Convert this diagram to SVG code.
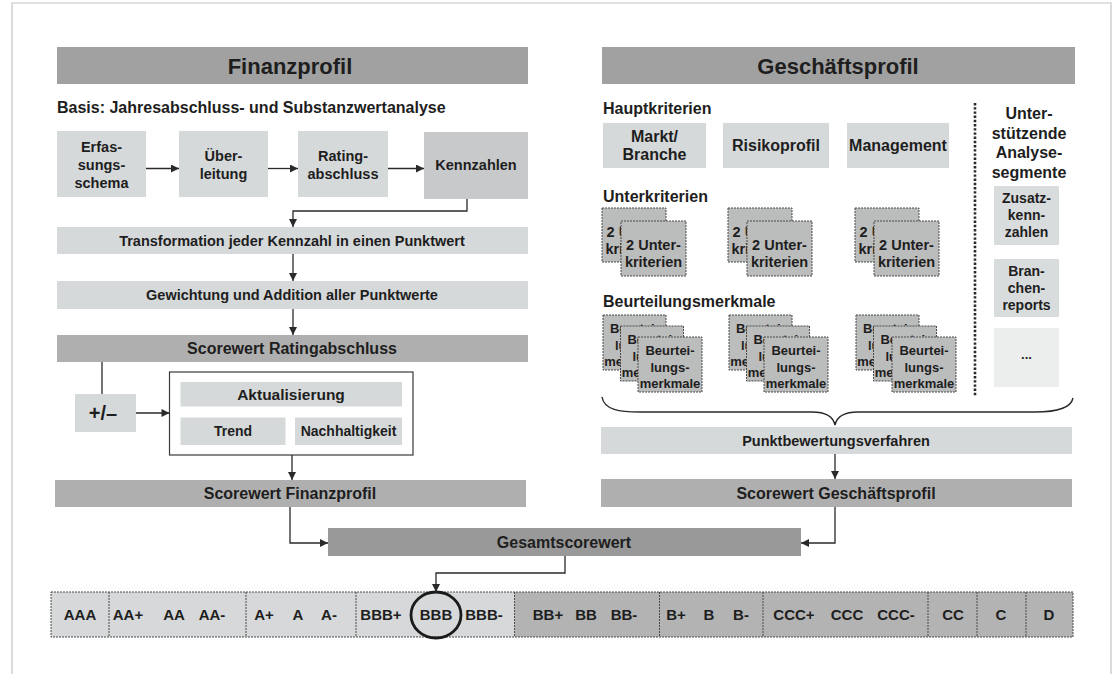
<svg xmlns="http://www.w3.org/2000/svg" width="1113" height="674" viewBox="0 0 1113 674">
<defs>
<marker id="ah" viewBox="0 0 10 10" refX="10" refY="5" markerWidth="9" markerHeight="8" markerUnits="userSpaceOnUse" orient="auto"><path d="M0,0 L10,5 L0,10 z" fill="#2a2a2a"/></marker>
<style>
text{font-family:"Liberation Sans",Arial,sans-serif;font-weight:bold;fill:#1e1e1e;text-anchor:middle}
.hd{fill:#a1a1a1}
.lt{fill:#d6d9da}
.sc{fill:#afafaf}
.gs{fill:#999999}
.st{fill:#bbbcbc;stroke:#4a4a4a;stroke-width:1;stroke-dasharray:2 1}
.rl{fill:#d6d8d9}
.rd{fill:#b3b3b3}
.dv{stroke:#4a4a4a;stroke-width:1;stroke-dasharray:2 1;fill:none}
.cn{fill:none;stroke:#2a2a2a;stroke-width:1.3}
.t22{font-size:22px}
.t16{font-size:16px}
.t145{font-size:14.5px}
.t14{font-size:14px}
.t13{font-size:13px}
.t15{font-size:15px}
.l{text-anchor:start}
</style>
</defs>
<rect x="0" y="0" width="1113" height="674" fill="#ffffff"/>
<path d="M12,674 V3 H1111 V674" fill="none" stroke="#c4c4c4" stroke-width="1.2"/>

<!-- Finanzprofil -->
<g id="finanzprofil-header"><rect class="hd" x="57" y="47" width="471" height="37"/><text class="t22" x="290" y="74">Finanzprofil</text></g>
<g id="basis-label"><text class="t16 l" x="57" y="113">Basis: Jahresabschluss- und Substanzwertanalyse</text></g>
<g id="erfassungsschema"><rect class="lt" x="57" y="131" width="89" height="66"/><text class="t145" x="101.5" y="152">Erfas-</text><text class="t145" x="101.5" y="170">sungs-</text><text class="t145" x="101.5" y="188">schema</text></g>
<g id="ueberleitung"><rect class="lt" x="179" y="131" width="89" height="66"/><text class="t145" x="223.5" y="161">Über-</text><text class="t145" x="223.5" y="179">leitung</text></g>
<g id="ratingabschluss"><rect class="lt" x="298" y="131" width="90" height="66"/><text class="t145" x="343" y="161">Rating-</text><text class="t145" x="343" y="179">abschluss</text></g>
<g id="kennzahlen"><rect fill="#c7c9ca" x="424" y="132" width="104" height="67"/><text class="t145" x="476" y="170">Kennzahlen</text></g>
<g id="transformation"><rect class="lt" x="57" y="227" width="471" height="27"/><text class="t145" x="292" y="246">Transformation jeder Kennzahl in einen Punktwert</text></g>
<g id="gewichtung"><rect class="lt" x="57" y="281" width="471" height="28"/><text class="t145" x="292" y="300">Gewichtung und Addition aller Punktwerte</text></g>
<g id="scorewert-rating"><rect class="sc" x="57" y="335" width="471" height="27"/><text class="t16" x="292" y="354">Scorewert Ratingabschluss</text></g>
<g id="plusminus"><rect class="lt" x="75" y="394" width="61" height="38"/><text x="103" y="420" style="font-size:20px">+/–</text></g>
<g id="aktualisierung-box"><rect x="169.5" y="372" width="243.5" height="83" fill="#ffffff" stroke="#3a3a3a" stroke-width="1.2"/>
<rect class="lt" x="180.5" y="382" width="221.5" height="24.5"/><text x="291" y="400" style="font-size:15.5px">Aktualisierung</text>
<rect class="lt" x="180.5" y="417.5" width="105" height="27.5"/><text class="t14" x="233" y="436">Trend</text>
<rect class="lt" x="295" y="417.5" width="107" height="27.5"/><text class="t14" x="348.5" y="436">Nachhaltigkeit</text></g>
<g id="scorewert-finanz"><rect class="sc" x="55" y="480" width="471" height="27"/><text class="t16" x="290" y="499">Scorewert Finanzprofil</text></g>

<!-- Geschäftsprofil -->
<g id="geschaeftsprofil-header"><rect class="hd" x="602" y="47" width="473" height="37"/><text class="t22" x="838" y="74">Geschäftsprofil</text></g>
<g id="hauptkriterien-label"><text class="t16 l" x="603" y="114">Hauptkriterien</text></g>
<g id="markt"><rect class="lt" x="603" y="123" width="103" height="45"/><text class="t16" x="654.5" y="142">Markt/</text><text class="t16" x="654.5" y="160">Branche</text></g>
<g id="risikoprofil"><rect class="lt" x="723" y="123" width="106" height="45"/><text class="t16" x="776" y="151">Risikoprofil</text></g>
<g id="management"><rect class="lt" x="847" y="123" width="102" height="45"/><text class="t16" x="898" y="151">Management</text></g>
<g id="unterkriterien-label"><text class="t16 l" x="603" y="202">Unterkriterien</text></g>

<g id="uk1"><rect class="st" x="602" y="208" width="64" height="54"/><text class="t145" x="634" y="237">2 Unter-</text><text class="t145" x="634" y="254">kriterien</text>
<rect class="st" x="621" y="221" width="65" height="55"/><text class="t145" x="653.5" y="250">2 Unter-</text><text class="t145" x="653.5" y="267">kriterien</text></g>
<g id="uk2"><rect class="st" x="728" y="208" width="64" height="54"/><text class="t145" x="760" y="237">2 Unter-</text><text class="t145" x="760" y="254">kriterien</text>
<rect class="st" x="747" y="221" width="65" height="55"/><text class="t145" x="779.5" y="250">2 Unter-</text><text class="t145" x="779.5" y="267">kriterien</text></g>
<g id="uk3"><rect class="st" x="855" y="208" width="64" height="54"/><text class="t145" x="887" y="237">2 Unter-</text><text class="t145" x="887" y="254">kriterien</text>
<rect class="st" x="874" y="221" width="65" height="55"/><text class="t145" x="906.5" y="250">2 Unter-</text><text class="t145" x="906.5" y="267">kriterien</text></g>

<g id="beurteilung-label"><text class="t16 l" x="603" y="307">Beurteilungsmerkmale</text></g>

<g id="bm1">
<rect class="st" x="603" y="315" width="63" height="55"/><text class="t13" x="634.5" y="333">Beurtei-</text><text class="t13" x="634.5" y="349.5">lungs-</text><text class="t13" x="634.5" y="366">merkmale</text>
<rect class="st" x="620.5" y="326" width="63" height="55"/><text class="t13" x="652" y="344">Beurtei-</text><text class="t13" x="652" y="360.5">lungs-</text><text class="t13" x="652" y="377">merkmale</text>
<rect class="st" x="638" y="337" width="64" height="55"/><text class="t13" x="670" y="355">Beurtei-</text><text class="t13" x="670" y="371.5">lungs-</text><text class="t13" x="670" y="388">merkmale</text></g>
<g id="bm2">
<rect class="st" x="729" y="315" width="63" height="55"/><text class="t13" x="760.5" y="333">Beurtei-</text><text class="t13" x="760.5" y="349.5">lungs-</text><text class="t13" x="760.5" y="366">merkmale</text>
<rect class="st" x="746.5" y="326" width="63" height="55"/><text class="t13" x="778" y="344">Beurtei-</text><text class="t13" x="778" y="360.5">lungs-</text><text class="t13" x="778" y="377">merkmale</text>
<rect class="st" x="764" y="337" width="64" height="55"/><text class="t13" x="796" y="355">Beurtei-</text><text class="t13" x="796" y="371.5">lungs-</text><text class="t13" x="796" y="388">merkmale</text></g>
<g id="bm3">
<rect class="st" x="856" y="315" width="63" height="55"/><text class="t13" x="887.5" y="333">Beurtei-</text><text class="t13" x="887.5" y="349.5">lungs-</text><text class="t13" x="887.5" y="366">merkmale</text>
<rect class="st" x="873.5" y="326" width="63" height="55"/><text class="t13" x="905" y="344">Beurtei-</text><text class="t13" x="905" y="360.5">lungs-</text><text class="t13" x="905" y="377">merkmale</text>
<rect class="st" x="892" y="337" width="64" height="55"/><text class="t13" x="924" y="355">Beurtei-</text><text class="t13" x="924" y="371.5">lungs-</text><text class="t13" x="924" y="388">merkmale</text></g>

<g id="separator"><line x1="975" y1="103" x2="975" y2="397" stroke="#2a2a2a" stroke-width="2.6" stroke-dasharray="2.4 1.8"/></g>
<g id="unterstuetzende-label"><text class="t16" x="1029" y="119">Unter-</text><text class="t16" x="1029" y="138.5">stützende</text><text class="t16" x="1029" y="158">Analyse-</text><text class="t16" x="1029" y="177.5">segmente</text></g>
<g id="zusatzkennzahlen"><rect fill="#d9dcdd" x="994" y="186" width="65" height="59"/><text class="t14" x="1026.5" y="203">Zusatz-</text><text class="t14" x="1026.5" y="220">kenn-</text><text class="t14" x="1026.5" y="237">zahlen</text></g>
<g id="branchenreports"><rect fill="#d9dcdd" x="994" y="259" width="65" height="58"/><text class="t14" x="1026.5" y="276">Bran-</text><text class="t14" x="1026.5" y="293">chen-</text><text class="t14" x="1026.5" y="310">reports</text></g>
<g id="weitere"><rect fill="#eceeee" x="994" y="328" width="65" height="59"/><text class="t13" x="1026.5" y="359">...</text></g>

<g id="brace"><path d="M602,397 C604,410 620,412 640,412 L812,412 C826,412 833,416 835,425 C837,416 844,412 858,412 L1035,412 C1058,412 1071,408 1073,398" fill="none" stroke="#2a2a2a" stroke-width="1.4"/></g>
<g id="punktbewertung"><rect class="lt" x="601" y="427" width="471" height="27"/><text class="t145" x="836" y="446">Punktbewertungsverfahren</text></g>
<g id="scorewert-geschaeft"><rect class="sc" x="601" y="479" width="471" height="28"/><text class="t16" x="836" y="499">Scorewert Geschäftsprofil</text></g>

<g id="gesamtscorewert"><rect class="gs" x="328" y="528" width="473" height="28"/><text class="t16" x="564" y="548">Gesamtscorewert</text></g>

<!-- Rating scale -->
<g id="rating-scale">
<rect class="rl" x="51" y="592" width="463.5" height="45"/>
<rect class="rd" x="514.5" y="592" width="558.5" height="45"/>
<rect class="dv" x="51" y="592" width="1022" height="45"/>
<path class="dv" d="M109,592V637M246,592V637M356,592V637M514.5,592V637M659.5,592V637M763,592V637M928,592V637M977,592V637M1026,592V637"/>
<g class="t15">
<text x="80" y="620">AAA</text><text x="128" y="620">AA+</text><text x="174" y="620">AA</text><text x="212" y="620">AA-</text>
<text x="264" y="620">A+</text><text x="298" y="620">A</text><text x="329" y="620">A-</text>
<text x="381" y="620">BBB+</text><text x="436" y="620">BBB</text><text x="484" y="620">BBB-</text>
<text x="548" y="620">BB+</text><text x="586" y="620">BB</text><text x="624" y="620">BB-</text>
<text x="676" y="620">B+</text><text x="709" y="620">B</text><text x="741" y="620">B-</text>
<text x="794" y="620">CCC+</text><text x="847" y="620">CCC</text><text x="896" y="620">CCC-</text>
<text x="953" y="620">CC</text><text x="1001" y="620">C</text><text x="1049" y="620">D</text>
</g>
<ellipse cx="436" cy="615" rx="25" ry="23" fill="none" stroke="#1a1a1a" stroke-width="2.8"/>
</g>

<g id="connectors">
<path class="cn" d="M146,168.5H179" marker-end="url(#ah)"/>
<path class="cn" d="M268,168.5H298" marker-end="url(#ah)"/>
<path class="cn" d="M388,168.5H424" marker-end="url(#ah)"/>
<path class="cn" d="M467,199V211H293V227" marker-end="url(#ah)"/>
<path class="cn" d="M293,254V281" marker-end="url(#ah)"/>
<path class="cn" d="M293,309V335" marker-end="url(#ah)"/>
<path class="cn" d="M102,362V394"/>
<path class="cn" d="M136,413H169.5" marker-end="url(#ah)"/>
<path class="cn" d="M292,455V480" marker-end="url(#ah)"/>
<path class="cn" d="M290,507V543H328" marker-end="url(#ah)"/>
<path class="cn" d="M835,454V479" marker-end="url(#ah)"/>
<path class="cn" d="M835,507V543H801" marker-end="url(#ah)"/>
<path class="cn" d="M565,556V573H436V592" marker-end="url(#ah)"/>
</g>
</svg>
